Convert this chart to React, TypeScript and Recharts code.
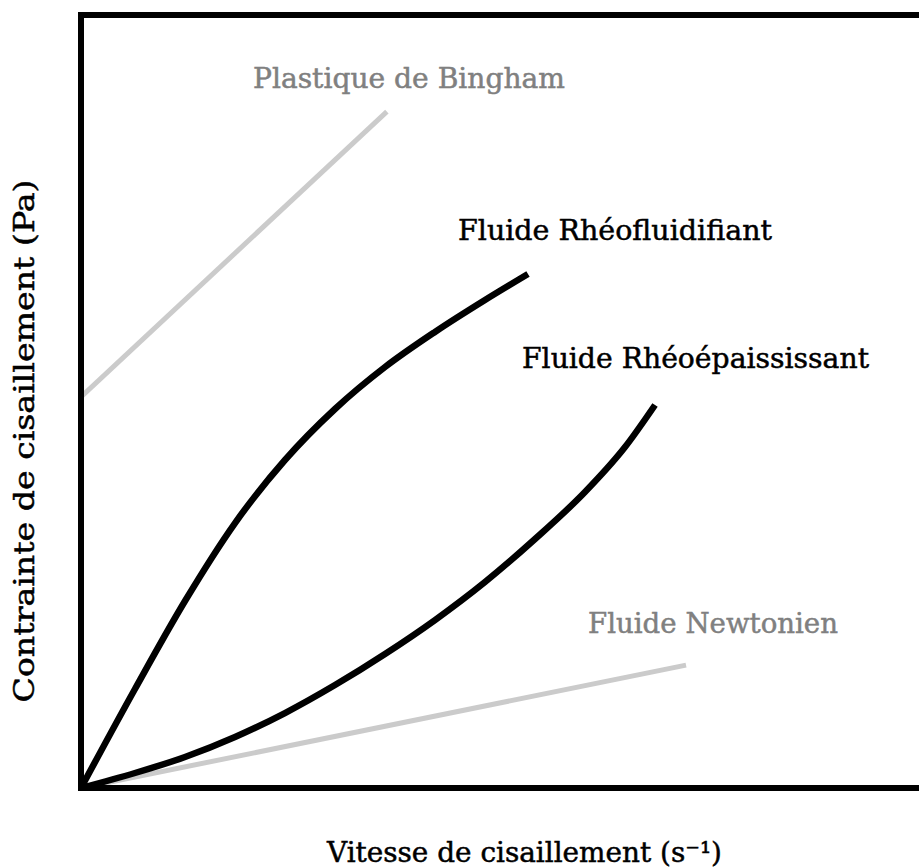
import React from 'react';
import { LineChart, Line, XAxis, YAxis, ReferenceLine } from 'recharts';

// Shear rate (x) vs shear stress (y), arbitrary units 0-100
const binghamData = [
  { x: 0, y: 50.6 },
  { x: 36.5, y: 87.5 },
];
const rheofluidifiantData = [
  { x: 0, y: 0 },
  { x: 6.44, y: 12.81 },
  { x: 12.41, y: 24.19 },
  { x: 18.38, y: 34.28 },
  { x: 24.34, y: 42.43 },
  { x: 30.31, y: 49.03 },
  { x: 36.28, y: 54.46 },
  { x: 42.24, y: 59.0 },
  { x: 48.21, y: 63.13 },
  { x: 53.34, y: 66.49 },
];
const rheoepaississantData = [
  { x: 0, y: 0 },
  { x: 6.44, y: 1.94 },
  { x: 12.41, y: 4.01 },
  { x: 18.38, y: 6.6 },
  { x: 24.34, y: 9.7 },
  { x: 30.31, y: 13.32 },
  { x: 36.28, y: 17.34 },
  { x: 42.24, y: 21.73 },
  { x: 48.21, y: 26.65 },
  { x: 54.18, y: 32.21 },
  { x: 60.14, y: 38.29 },
  { x: 64.92, y: 44.11 },
  { x: 68.5, y: 49.55 },
];
const newtonienData = [
  { x: 0, y: 0 },
  { x: 72.2, y: 15.9 },
];

const seriesLabels = {
  bingham: 'Plastique de Bingham',
  fluid: 'Fluide Rhéofluidifiant',
  thick: 'Fluide Rhéoépaississant',
  newton: 'Fluide Newtonien',
};
const xAxisTitle = 'Vitesse de cisaillement (s⁻¹)';
const yAxisTitle = 'Contrainte de cisaillement (Pa)';

const FONT = '"DejaVu Serif", serif';
const GRAY_LINE = '#cbcbcb';
const GRAY_TEXT = '#808080';

export default function App() {
  return (
    <div style={{ position: 'absolute', left: 0, top: 0, width: 919, height: 868, background: '#fff' }}>
      <LineChart width={919} height={868} margin={{ top: 15, right: 0, bottom: 80, left: 81 }}>
        <XAxis type="number" dataKey="x" domain={[0, 100]} hide allowDataOverflow />
        <YAxis type="number" dataKey="y" domain={[0, 100]} hide allowDataOverflow />
        <Line data={binghamData} dataKey="y" type="linear" stroke={GRAY_LINE} strokeWidth={5} dot={false} isAnimationActive={false} />
        <Line data={newtonienData} dataKey="y" type="linear" stroke={GRAY_LINE} strokeWidth={5} dot={false} isAnimationActive={false} />
        <Line data={rheofluidifiantData} dataKey="y" type="monotone" stroke="#000" strokeWidth={6.5} dot={false} isAnimationActive={false} />
        <Line data={rheoepaississantData} dataKey="y" type="monotone" stroke="#000" strokeWidth={6.5} dot={false} isAnimationActive={false} />
        <ReferenceLine x={0} stroke="#000" strokeWidth={6} strokeLinecap="square" />
        <ReferenceLine y={0} stroke="#000" strokeWidth={6} strokeLinecap="square" />
        <ReferenceLine y={100} stroke="#000" strokeWidth={6} strokeLinecap="square" />
        <text x={253} y={88} fontFamily={FONT} fontSize={28} fill={GRAY_TEXT} stroke={GRAY_TEXT} strokeWidth={0.5} textLength={312} lengthAdjust="spacingAndGlyphs">{seriesLabels.bingham}</text>
        <text x={458} y={240} fontFamily={FONT} fontSize={28} fill="#000" stroke="#000" strokeWidth={0.5} textLength={314} lengthAdjust="spacingAndGlyphs">{seriesLabels.fluid}</text>
        <text x={522} y={368} fontFamily={FONT} fontSize={28} fill="#000" stroke="#000" strokeWidth={0.5} textLength={347} lengthAdjust="spacingAndGlyphs">{seriesLabels.thick}</text>
        <text x={588} y={633} fontFamily={FONT} fontSize={28} fill={GRAY_TEXT} stroke={GRAY_TEXT} strokeWidth={0.5} textLength={250} lengthAdjust="spacingAndGlyphs">{seriesLabels.newton}</text>
        <text x={327} y={862} fontFamily={FONT} fontSize={28} fill="#000" stroke="#000" strokeWidth={0.5} textLength={395} lengthAdjust="spacingAndGlyphs">{xAxisTitle}</text>
        <text x={0} y={0} transform="translate(34 441) rotate(-90)" textAnchor="middle" fontFamily={FONT} fontSize={28} fill="#000" stroke="#000" strokeWidth={0.5} textLength={523} lengthAdjust="spacingAndGlyphs">{yAxisTitle}</text>
      </LineChart>
    </div>
  );
}
